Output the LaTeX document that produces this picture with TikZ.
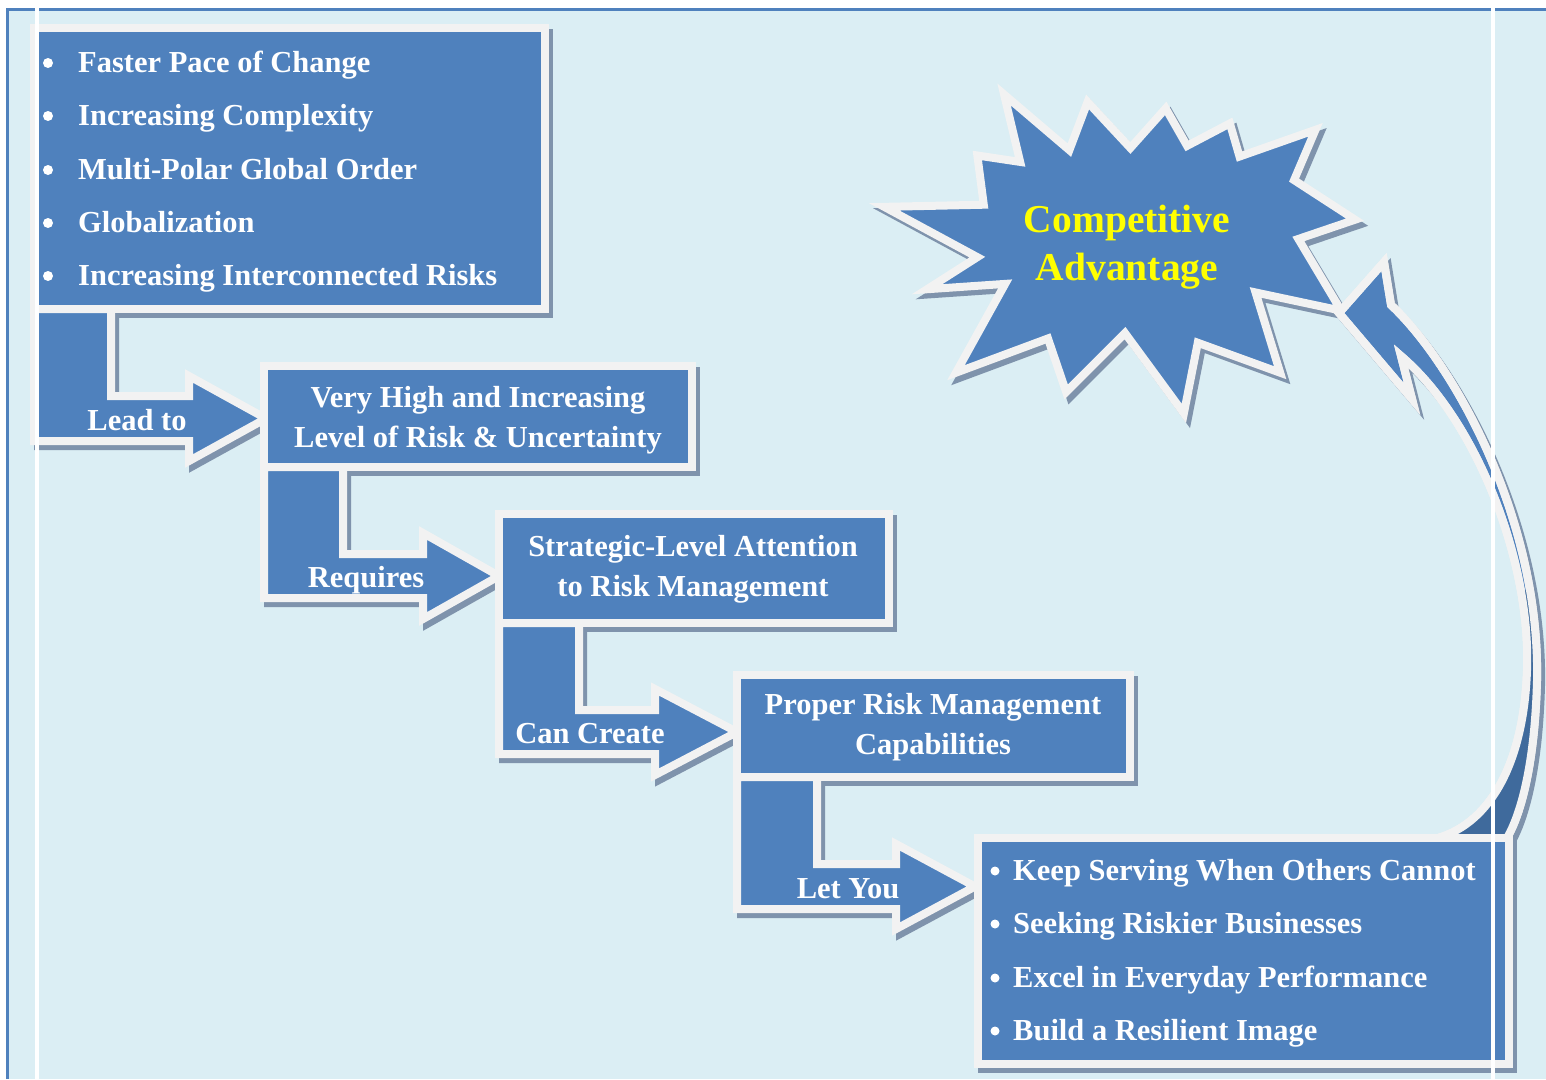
\documentclass[tikz,border=0pt]{standalone}
\usepackage{fontspec}
\setmainfont{Liberation Serif}
\definecolor{bgc}{HTML}{DBEEF4}
\definecolor{blu}{HTML}{4F81BD}
\definecolor{dblu}{HTML}{3F6A9C}
\definecolor{wb}{HTML}{F2F2F2}
\definecolor{shc}{HTML}{7F93AC}
\definecolor{ylw}{HTML}{FFFF00}
\tikzset{
  shp/.style={fill=blu, draw=wb, line width=8pt, line join=miter, miter limit=8},
  shdw/.style={fill=shc, draw=shc, line width=8pt, line join=miter, miter limit=8},
  wtxt/.style={text=white, font=\fontsize{30.5}{36}\selectfont\bfseries, inner sep=0pt},
  ytxt/.style={text=ylw, font=\fontsize{39.5}{46}\selectfont\bfseries, inner sep=0pt, anchor=base},
  bulA/.style={circle, fill=white, inner sep=0pt, minimum size=10pt},
  bulE/.style={circle, fill=white, inner sep=0pt, minimum size=9pt},
  starT/.style={shift={(1125,255)}, scale=1.07, shift={(-1125,-255)}},
}
\def\pBoxA{(34,28) rectangle (545,309)}
\def\pBoxB{(264,366) rectangle (692,467)}
\def\pBoxC{(499,514) rectangle (889,623)}
\def\pBoxD{(737,675) rectangle (1130,777)}
\def\pBoxE{(978,838) rectangle (1509,1064)}
\def\pArrA{(34,309) -- (111,309) -- (111,396) -- (189,396) -- (189,376) -- (266,418.5) -- (189,461) -- (189,441) -- (34,441) -- cycle}
\def\pArrB{(264,467) -- (343,467) -- (343,554) -- (423,554) -- (423,533) -- (499,576) -- (423,619) -- (423,598) -- (264,598) -- cycle}
\def\pArrC{(499,623) -- (579,623) -- (579,710) -- (655,710) -- (655,689) -- (737,732) -- (655,775) -- (655,754) -- (499,754) -- cycle}
\def\pArrD{(737,777) -- (817,777) -- (817,864) -- (896,864) -- (896,844) -- (975,886.5) -- (896,929) -- (896,909) -- (737,909) -- cycle}
\def\pStar{(1012,105) -- (1073,157) -- (1090,112) -- (1130,155) -- (1163,118) -- (1183,153) -- (1223,132) -- (1232,163) -- (1303,138) -- (1283,185) -- (1340,222) -- (1287,240) -- (1327,307) -- (1247,290) -- (1270,365) -- (1193,337) -- (1180,403) -- (1125,328) -- (1070,383) -- (1053,333) -- (967,365) -- (1013,282) -- (940,287) -- (987,257) -- (900,210) -- (993,208) -- (987,162) -- (1027,168) -- cycle}
\def\pCurve{(1339,313) -- (1384,262) -- (1391,305) .. controls (1455,365) and (1540,520) .. (1537,680) .. controls (1535,760) and (1522,812) .. (1507,838) -- (1438,838) .. controls (1492,822) and (1524,760) .. (1527,670) .. controls (1531,560) and (1476,420) .. (1401,356) -- (1412,399) -- cycle}
\begin{document}
\begin{tikzpicture}[x=1pt,y=-1pt]
\useasboundingbox (0,0) rectangle (1546,1079);
\fill[white] (0,0) rectangle (1546,1079);
\fill[bgc] (7.5,9.5) rectangle (1546,1079);
\draw[blu, line width=3.5pt] (7.5,1079) -- (7.5,9.5) -- (1546,9.5);
% shadows
\begin{scope}[shift={(4,5)}]
  \begin{scope}[starT]
    \path[shdw] \pStar;
  \end{scope}
  \path[shdw] \pCurve;
  \path[shdw] \pBoxA;
  \path[shdw] \pBoxB;
  \path[shdw] \pBoxC;
  \path[shdw] \pBoxD;
  \path[shdw] \pBoxE;
  \path[shdw] \pArrA;
  \path[shdw] \pArrB;
  \path[shdw] \pArrC;
  \path[shdw] \pArrD;
\end{scope}
% star
\begin{scope}[starT]
  \path[shp] \pStar;
\end{scope}
% curved arrow
\path[shp] \pCurve;
\begin{scope}
  \clip (1300,590) rectangle (1600,900);
  \fill[dblu] \pCurve;
\end{scope}
\path[draw=wb, line width=8pt, line join=miter, miter limit=8] \pCurve;
% boxes and bent arrows
\path[shp] \pBoxA;
\path[shp] \pArrA;
\path[shp] \pBoxB;
\path[shp] \pArrB;
\path[shp] \pBoxC;
\path[shp] \pArrC;
\path[shp] \pBoxD;
\path[shp] \pArrD;
\path[shp] \pBoxE;
% texts box 1
\node[bulA] (ba1) at (48,63) {};
\node[bulA] (ba2) at (48,116) {};
\node[bulA] (ba3) at (48,170) {};
\node[bulA] (ba4) at (48,223) {};
\node[bulA] (ba5) at (48,276) {};
\node[wtxt, anchor=base west] (ta1) at (78,72) {Faster Pace of Change};
\node[wtxt, anchor=base west] (ta2) at (78,125) {Increasing Complexity};
\node[wtxt, anchor=base west] (ta3) at (78,179) {Multi-Polar Global Order};
\node[wtxt, anchor=base west] (ta4) at (78,232) {Globalization};
\node[wtxt, anchor=base west] (ta5) at (78,285) {Increasing Interconnected Risks};
% box 2-4
\node[wtxt, anchor=base] (tb1) at (478,407) {Very High and Increasing};
\node[wtxt, anchor=base] (tb2) at (478,447) {Level of Risk \& Uncertainty};
\node[wtxt, anchor=base] (tc1) at (693,556) {Strategic-Level Attention};
\node[wtxt, anchor=base] (tc2) at (693,596) {to Risk Management};
\node[wtxt, anchor=base] (td1) at (933,714) {Proper Risk Management};
\node[wtxt, anchor=base] (td2) at (933,754) {Capabilities};
% arrow labels
\node[wtxt, anchor=base] (la) at (137,430) {Lead to};
\node[wtxt, anchor=base] (lb) at (366,587) {Requires};
\node[wtxt, anchor=base] (lc) at (590,743) {Can Create};
\node[wtxt, anchor=base] (ld) at (848,898) {Let You};
% box 5
\node[bulE] (be1) at (995,871) {};
\node[bulE] (be2) at (995,924) {};
\node[bulE] (be3) at (995,978) {};
\node[bulE] (be4) at (995,1031) {};
\node[wtxt, anchor=base west] (te1) at (1013,880) {Keep Serving When Others Cannot};
\node[wtxt, anchor=base west] (te2) at (1013,933) {Seeking Riskier Businesses};
\node[wtxt, anchor=base west] (te3) at (1013,987) {Excel in Everyday Performance};
\node[wtxt, anchor=base west] (te4) at (1013,1040) {Build a Resilient Image};
% star text
\node[ytxt] (s1) at (1127,232) {Competitive};
\node[ytxt] (s2) at (1127,280) {Advantage};
% white page lines
\draw[white, line width=4pt] (37,0) -- (37,1079);
\draw[white, line width=4pt] (1493,0) -- (1493,1079);
\end{tikzpicture}
\end{document}
